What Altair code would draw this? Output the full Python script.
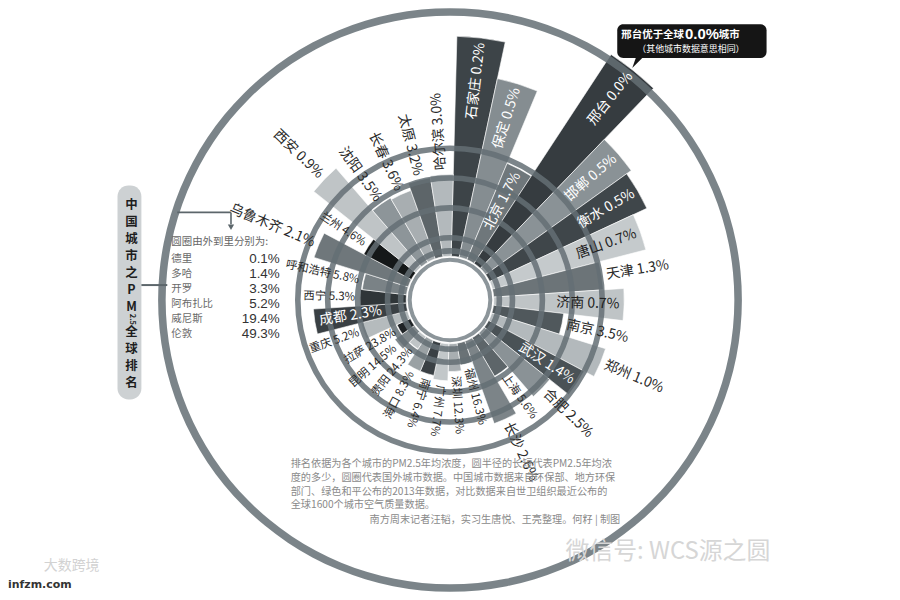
import math
import altair as alt
import pandas as pd

FONT = "Noto Sans CJK SC"

# ---------------- data ----------------
cities = ["石家庄", "保定", "北京", "邢台", "邯郸", "衡水", "唐山", "天津", "济南", "南京",
          "郑州", "武汉", "合肥", "上海", "长沙", "福州", "深圳", "广州", "南宁", "海口",
          "贵阳", "昆明", "拉萨", "重庆", "成都", "西宁", "呼和浩特", "乌鲁木齐", "兰州", "西安",
          "沈阳", "长春", "太原", "哈尔滨"]
ranks = ["0.2%", "0.5%", "1.7%", "0.0%", "0.5%", "0.5%", "0.7%", "1.3%", "0.7%", "3.5%",
         "1.0%", "1.4%", "2.5%", "5.6%", "2.6%", "16.3%", "12.3%", "7.7%", "6.4%", "8.3%",
         "24.3%", "14.5%", "23.8%", "5.2%", "2.3%", "5.3%", "5.8%", "2.1%", "4.6%", "0.9%",
         "3.5%", "3.6%", "3.2%", "3.0%"]
# bar length (PM2.5 level in chart units)
levels = [120, 100, 58, 136, 98, 95, 87, 61, 72, 40,
          66, 60, 47, 26, 49, 14, 17, 22, 20, 20,
          10, 15, 10, 28, 52, 27, 26, 55, 31, 72,
          42, 41, 45, 46]

ring_names = ["德里", "多哈", "开罗", "阿布扎比", "威尼斯", "伦敦"]
ring_ranks = ["0.1%", "1.4%", "3.3%", "5.2%", "19.4%", "49.3%"]
ring_levels = [133, 60, 44, 28, 12, 5]

title_top = ["中", "国", "城", "市", "之", "P", "M"]
title_sub = "2.5"
title_bottom = ["全", "球", "排", "名"]
legend_header = "圆圈由外到里分别为:"
note_lines = ["排名依据为各个城市的PM2.5年均浓度，圆半径的长短代表PM2.5年均浓",
              "度的多少，圆圈代表国外城市数据。中国城市数据来自环保部、地方环保",
              "部门、绿色和平公布的2013年数据，对比数据来自世卫组织最近公布的",
              "全球1600个城市空气质量数据。"]
credit_line = "南方周末记者汪韬，实习生唐悦、王亮整理。何籽 | 制图"
callout_a, callout_b, callout_c = "邢台优于全球", "0.0%", "城市"
callout_note = "（其他城市数据意思相同）"

# ---------------- styles ----------------
shades = ["#3d4448", "#858d91", "#6f777b", "#363c40", "#8a9296", "#3f464a", "#c5cacc", "#6c7478",
          "#bfc4c6", "#50585c", "#b3b9bc", "#4a5256", "#8a9296", "#5d6569", "#7c8488", "#6a7276",
          "#a8aeb1", "#c2c7c9", "#3a4044", "#9aa1a4", "#bfc4c6", "#7f878b", "#1f2326", "#b5bbbd",
          "#3a4044", "#2f3538", "#7a8286", "#6f777b", "#151819", "#bfc4c6", "#8d9599", "#a8aeb1",
          "#5d6569", "#b3b9bc"]
# cities whose label is written inside their bar
INSIDE = {"石家庄", "保定", "北京", "邢台", "邯郸", "衡水", "唐山", "济南", "武汉", "成都"}
RING = "#646e74"
W, H = 888, 584


def lum(hexc):
    r, g, b = (int(hexc[i:i + 2], 16) for i in (1, 3, 5))
    return (0.299 * r + 0.587 * g + 0.114 * b) / 255


n = len(cities)
step = 360.0 / n
start_deg = 1.5
theta_scale = alt.Scale(domain=[0, n], range=[math.radians(start_deg), math.radians(start_deg) + 2 * math.pi])
r_scale = alt.Scale(domain=[0, 160], range=[40, 340])

rows = []
for i, (c, rk, v, sh) in enumerate(zip(cities, ranks, levels, shades)):
    th = (start_deg + (i + 0.5) * step) % 360
    outward = th <= 200 or th >= 350
    inside = c in INSIDE
    rot = (th - 90) % 360 if outward else (th + 90) % 360
    al = "left" if (outward != inside) else "right"
    tc = ("#ffffff" if lum(sh) < 0.6 else "#222222") if inside else "#2a2a2a"
    rows.append(dict(city=c, label=f"{c}  {rk}", level=v, i0=i, i1=i + 1, mid=i + 0.5,
                     lr=v - 2.5 if inside else v + 2.5, rot=rot, al=al, tc=tc,
                     fs=14 if v >= 40 else 11.5, shade=sh))
df = pd.DataFrame(rows)

ring_df = pd.DataFrame({"name": ring_names, "level": ring_levels})
half = [2.0 if v > 100 else 1.5 for v in ring_levels]
ring_df["ro"] = ring_df["level"] + half
ring_df["ri"] = ring_df["level"] - half

one = pd.DataFrame({"a": [0]})

bars = alt.Chart(df).mark_arc(stroke="white", strokeWidth=0.6).encode(
    theta=alt.Theta("i0:Q", scale=theta_scale, stack=None),
    theta2="i1:Q",
    radius=alt.Radius("level:Q", scale=r_scale),
    radius2=alt.value(44),
    color=alt.Color("shade:N", scale=None),
)

rings = alt.Chart(ring_df).mark_arc(theta=0, theta2=2 * math.pi, color=RING, opacity=0.85).encode(
    radius=alt.Radius("ro:Q", scale=r_scale),
    radius2=alt.Radius2("ri:Q"),
)

hub = alt.Chart(one).mark_arc(theta=0, theta2=2 * math.pi, color="#8c959a").encode(
    radius=alt.value(42.5), radius2=alt.value(38.5))


def label_layer(al):
    return alt.Chart(df).transform_filter(alt.datum.al == al).mark_text(
        align=al, baseline="middle", font=FONT).encode(
        theta=alt.Theta("mid:Q", scale=theta_scale, stack=None),
        radius=alt.Radius("lr:Q", scale=r_scale),
        text="label:N",
        angle=alt.Angle("rot:Q", scale=None),
        color=alt.Color("tc:N", scale=None),
        size=alt.Size("fs:Q", scale=None),
    )


labels = label_layer("left") + label_layer("right")

# ------------- side title (one glyph per row, written top to bottom) -------------
ttop = pd.DataFrame({"ch": title_top})
ttop["py"] = [197 + 17 * k for k in range(len(ttop))]
tbot = pd.DataFrame({"ch": title_bottom})
tbot["py"] = [324 + 17 * k for k in range(len(tbot))]
tchars = pd.concat([ttop, tbot], ignore_index=True)

tbox = alt.Chart(one).mark_rect(color="#cdd1d3", cornerRadius=11).encode(
    x=alt.value(110), x2=alt.value(134), y=alt.value(177), y2=alt.value(392))
t1 = alt.Chart(tchars).mark_text(font=FONT, fontSize=12.5, fontWeight="bold",
                                 baseline="middle", align="center", color="#1e1e1e").encode(
    x=alt.value(124), y=alt.Y("py:Q", scale=None), text="ch:N")
t2 = alt.Chart(one).mark_text(font=FONT, fontSize=7.5, fontWeight="bold", angle=90,
                              baseline="middle", align="center", color="#1e1e1e").encode(
    x=alt.value(125), y=alt.value(311.5), text=alt.value(title_sub))
conn = alt.Chart(one).mark_rule(color="#5c666b", strokeWidth=2).encode(
    x=alt.value(134), x2=alt.value(160), y=alt.value(277))
br1 = alt.Chart(one).mark_rule(color="#5c666b", strokeWidth=1.6).encode(
    x=alt.value(170), x2=alt.value(224), y=alt.value(204))
br2 = alt.Chart(one).mark_rule(color="#5c666b", strokeWidth=1.6).encode(
    x=alt.value(224), y=alt.value(204), y2=alt.value(216))
arrow = alt.Chart(one).mark_point(shape="triangle-down", filled=True, color="#5c666b", size=40,
                                  opacity=1).encode(x=alt.value(224), y=alt.value(219))

# ------------- legend of rings -------------
leg = pd.DataFrame({"name": ring_names, "rank": ring_ranks})
leg["py"] = [251 + 15 * k for k in range(len(leg))]
leg_head = alt.Chart(one).mark_text(font=FONT, fontSize=10.5, align="left", baseline="middle",
                                    color="#666666").encode(
    x=alt.value(164), y=alt.value(234), text=alt.value(legend_header))
leg_names = alt.Chart(leg).mark_text(font=FONT, fontSize=10.5, align="left", baseline="middle",
                                     color="#6a6a6a").encode(
    x=alt.value(164), y=alt.Y("py:Q", scale=None), text="name:N")
leg_vals = alt.Chart(leg).mark_text(font="Liberation Sans", fontSize=13.5, align="right",
                                    baseline="middle", color="#333333").encode(
    x=alt.value(273), y=alt.Y("py:Q", scale=None), text="rank:N")

# ------------- callout -------------
cbox = alt.Chart(one).mark_rect(color="#151515", cornerRadius=6).encode(
    x=alt.value(612), x2=alt.value(762), y=alt.value(15), y2=alt.value(49))
cptr = alt.Chart(one).mark_point(shape="M-0.3,-1L1,-1L-1,1Z", filled=True, color="#151515",
                                 size=140, opacity=1).encode(x=alt.value(633), y=alt.value(53))
ca = alt.Chart(one).mark_text(font=FONT, fontSize=10.5, fontWeight="bold", align="right",
                              baseline="middle", color="white").encode(
    x=alt.value(679), y=alt.value(26), text=alt.value(callout_a))
cb = alt.Chart(one).mark_text(font="Liberation Sans", fontSize=15, fontWeight="bold", align="left",
                              baseline="middle", color="white").encode(
    x=alt.value(680), y=alt.value(25), text=alt.value(callout_b))
cc = alt.Chart(one).mark_text(font=FONT, fontSize=10.5, fontWeight="bold", align="left",
                              baseline="middle", color="white").encode(
    x=alt.value(714), y=alt.value(26), text=alt.value(callout_c))
cn = alt.Chart(one).mark_text(font=FONT, fontSize=9, align="center", baseline="middle",
                              color="white").encode(
    x=alt.value(686), y=alt.value(40), text=alt.value(callout_note))

# ------------- footnote & watermarks -------------
notes = pd.DataFrame({"line": note_lines})
notes["py"] = [457 + 13.8 * k for k in range(len(notes))]
note = alt.Chart(notes).mark_text(font=FONT, fontSize=10.2, align="left", baseline="middle",
                                  color="#8a8a8a").encode(
    x=alt.value(284), y=alt.Y("py:Q", scale=None), text="line:N")
credit = alt.Chart(one).mark_text(font=FONT, fontSize=10.2, align="right", baseline="middle",
                                  color="#8a8a8a").encode(
    x=alt.value(615), y=alt.value(513), text=alt.value(credit_line))
wm1 = alt.Chart(one).mark_text(font="DejaVu Sans", fontSize=11, fontWeight="bold", align="left",
                               baseline="middle", color="#333333").encode(
    x=alt.value(0), y=alt.value(578), text=alt.value("infzm.com"))
wm2 = alt.Chart(one).mark_text(font=FONT, fontSize=14, align="left", baseline="middle",
                               color="#d2d2d2").encode(
    x=alt.value(36), y=alt.value(559), text=alt.value("大数跨境"))
wm3 = alt.Chart(one).mark_text(font=FONT, fontSize=24, align="left", baseline="middle",
                               color="#d6d6d6").encode(
    x=alt.value(560), y=alt.value(545), text=alt.value("微信号: WCS源之圆"))

chart = alt.layer(
    bars, rings, hub, labels,
    tbox, t1, t2, conn, br1, br2, arrow,
    leg_head, leg_names, leg_vals,
    cbox, cptr, ca, cb, cc, cn,
    note, credit, wm1, wm2, wm3,
).properties(width=W, height=H, padding=0, autosize=alt.AutoSizeParams(type="none")
             ).configure_view(stroke=None)

chart.save("out.html", embed_options={"renderer": "svg", "actions": False})
